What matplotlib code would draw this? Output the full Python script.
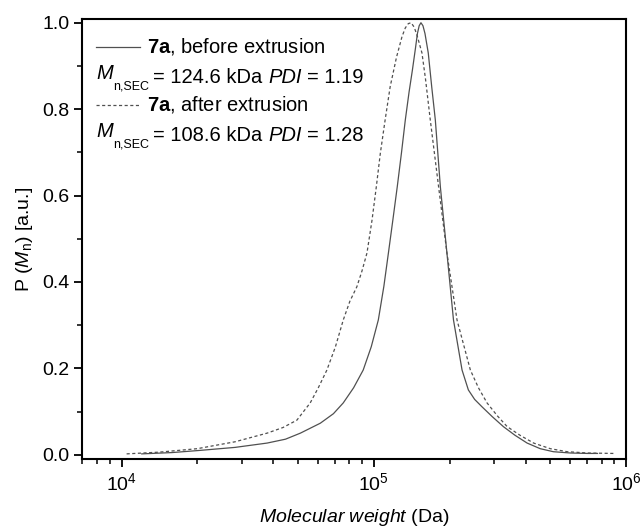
import numpy as np
import matplotlib
matplotlib.use("Agg")
import matplotlib.pyplot as plt
from matplotlib.ticker import MultipleLocator, LogLocator, NullFormatter

plt.rcParams['font.family'] = ['Liberation Sans', 'DejaVu Sans']
plt.rcParams['mathtext.fontset'] = 'custom'
plt.rcParams['mathtext.rm'] = 'Liberation Sans'
plt.rcParams['mathtext.it'] = 'Liberation Sans:italic'
plt.rcParams['mathtext.bf'] = 'Liberation Sans:bold'

# SEC traces: log10(M / Da) and normalised P(Mn)
logm_before = [4.08, 4.2, 4.31, 4.45, 4.577, 4.65, 4.709, 4.788, 4.84, 4.879, 4.92, 4.958,
               4.99, 5.018, 5.04, 5.058, 5.076, 5.093, 5.11, 5.125, 5.14, 5.153, 5.165,
               5.173, 5.18, 5.187, 5.195, 5.203, 5.216, 5.23, 5.244, 5.264, 5.29, 5.316,
               5.35, 5.375, 5.40, 5.429, 5.47, 5.514, 5.56, 5.608, 5.66, 5.712, 5.78, 5.847, 5.887]
p_before = [0.002, 0.005, 0.01, 0.017, 0.027, 0.036, 0.05, 0.073, 0.095, 0.12, 0.155, 0.196,
            0.25, 0.312, 0.39, 0.467, 0.545, 0.62, 0.70, 0.775, 0.84, 0.89, 0.94,
            0.975, 0.993, 1.0, 0.993, 0.975, 0.93, 0.85, 0.775, 0.62, 0.467, 0.312,
            0.196, 0.15, 0.128, 0.111, 0.088, 0.065, 0.045, 0.027, 0.014, 0.007, 0.004, 0.003, 0.003]

logm_after = [4.02, 4.15, 4.3, 4.45, 4.577, 4.64, 4.695, 4.748, 4.78, 4.814, 4.848, 4.879,
              4.905, 4.933, 4.953, 4.973, 4.993, 5.01, 5.026, 5.045, 5.065, 5.09, 5.112,
              5.125, 5.137, 5.148, 5.16, 5.172, 5.191, 5.205, 5.224, 5.257, 5.29, 5.33,
              5.383, 5.415, 5.449, 5.49, 5.529, 5.58, 5.634, 5.7, 5.767, 5.85, 5.95]
p_after = [0.002, 0.006, 0.014, 0.03, 0.05, 0.063, 0.08, 0.12, 0.155, 0.196, 0.25, 0.312,
           0.355, 0.389, 0.425, 0.467, 0.543, 0.62, 0.698, 0.775, 0.852, 0.92, 0.968,
           0.988, 0.998, 1.0, 0.99, 0.97, 0.93, 0.87, 0.775, 0.62, 0.467, 0.312,
           0.196, 0.155, 0.12, 0.09, 0.065, 0.045, 0.027, 0.014, 0.007, 0.004, 0.003]

m_before = 10 ** np.array(logm_before)
m_after = 10 ** np.array(logm_after)

title_before = r"$\mathbf{7a}$, before extrusion"
title_after = r"$\mathbf{7a}$, after extrusion"
mn_before, pdi_before = "124.6", "1.19"
mn_after, pdi_after = "108.6", "1.28"

fig = plt.figure(figsize=(6.41, 5.31), dpi=100)
ax = fig.add_axes([0.1287, 0.135, 0.8479, 0.8287])

gray = '#505050'
ax.plot(m_before, p_before, color=gray, lw=0.9, ls='-')
ax.plot(m_after, p_after, color=gray, lw=0.9, ls=(0, (2.5, 2)))

ax.set_xscale('log')
ax.set_xlim(7000, 1e6)
ax.set_ylim(-0.0106, 1.008)

ax.yaxis.set_major_locator(MultipleLocator(0.2))
ax.yaxis.set_minor_locator(MultipleLocator(0.1))
ax.yaxis.set_major_formatter(plt.FormatStrFormatter('%.1f'))
ax.xaxis.set_major_locator(LogLocator(base=10, numticks=10))
ax.xaxis.set_minor_locator(LogLocator(base=10, subs=np.arange(2, 10), numticks=20))
ax.xaxis.set_minor_formatter(NullFormatter())

for s in ax.spines.values():
    s.set_linewidth(1.5)
ax.tick_params(which='major', direction='out', length=6, width=1.3, labelsize=14,
               top=False, right=False)
ax.tick_params(which='minor', direction='out', length=3.5, width=1.1, top=False, right=False)

ax.set_xlabel(r"$\mathit{Molecular\ weight}$ (Da)", fontsize=14, labelpad=9)
ax.set_ylabel(r"P ($M_{\mathrm{n}}$) [a.u.]", fontsize=14, labelpad=5)

# hand-made legend
tr = ax.transAxes
def ax_xy(px, py):
    return ((px - 82.5) / (626 - 82.5), (459.3 - py) / (459.3 - 19.3))

fs = 14.5
x0, _ = ax_xy(96, 0)
x1, _ = ax_xy(140, 0)
xt, _ = ax_xy(147, 0)
for (line_y, style, title, mn, pdi) in [(47, '-', title_before, mn_before, pdi_before),
                                        (105, (0, (2.5, 2)), title_after, mn_after, pdi_after)]:
    _, yy = ax_xy(0, line_y)
    ax.plot([x0, x1], [yy, yy], transform=tr, color=gray, lw=0.9, ls=style)
    ax.text(xt, yy, title, transform=tr, fontsize=fs, va='center', ha='left')
    _, y2 = ax_xy(0, line_y + 32)
    t_m = ax.text(x0, y2, "M", transform=tr, fontsize=fs, style='italic', va='baseline')
    t_sub = ax.annotate("n,SEC", xy=(1, 0), xycoords=t_m, xytext=(0.3, -5),
                        textcoords='offset points', fontsize=9, va='baseline')
    t_eq = ax.annotate(f"= {mn} kDa", xy=(1, 0), xycoords=(t_sub, t_m), xytext=(3, 0),
                       textcoords='offset points', fontsize=fs, va='baseline')
    t_pdi = ax.annotate("PDI", xy=(1, 0), xycoords=(t_eq, t_m), xytext=(4, 0),
                        textcoords='offset points', fontsize=fs, style='italic', va='baseline')
    ax.annotate(f"= {pdi}", xy=(1, 0), xycoords=(t_pdi, t_m), xytext=(4, 0),
                textcoords='offset points', fontsize=fs, va='baseline')

fig.savefig('out.png', dpi=100)
